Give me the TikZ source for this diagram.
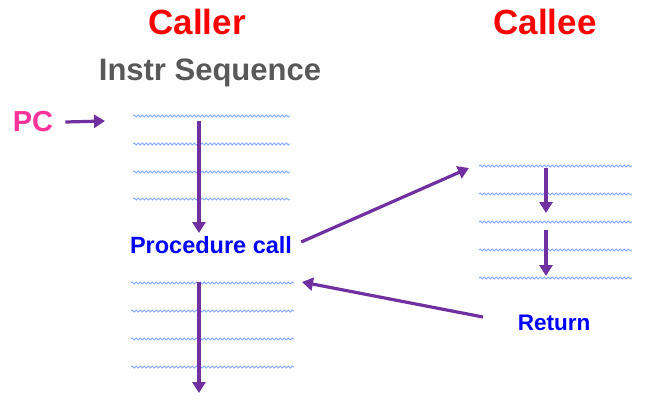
\documentclass[tikz,border=0pt]{standalone}
\usepackage{fontspec}
\setmainfont{Liberation Sans}
\usetikzlibrary{decorations.pathmorphing,arrows.meta}
\definecolor{callred}{HTML}{FF0000}
\definecolor{instrgray}{HTML}{595959}
\definecolor{pcpink}{HTML}{FF3399}
\definecolor{lblblue}{HTML}{0000FF}
\definecolor{wave}{HTML}{7FA8FF}
\definecolor{arr}{HTML}{7030A0}
\tikzset{
  title/.style={font=\fontsize{35}{40}\selectfont\bfseries, text=callred, inner sep=0pt},
  lbl/.style={font=\fontsize{23.5}{27}\selectfont\bfseries, text=lblblue, inner sep=0pt},
  wavy/.style={draw=wave, line width=0.8pt, decorate, decoration={snake, amplitude=1pt, segment length=4pt}},
  flow/.style={draw=arr, line width=3.2pt, -{Triangle[length=11pt,width=13pt]}}
}
\begin{document}
\begin{tikzpicture}[x=1pt,y=-1pt]
\useasboundingbox (0,0) rectangle (651,402);
\node[title] (caller) at (197,22) {Caller};
\node[title] (callee) at (545,22) {Callee};
\node[font=\fontsize{31}{36}\selectfont\bfseries, text=instrgray, inner sep=0pt] (instr) at (210,73) {Instr Sequence};
\node[font=\fontsize{29}{34}\selectfont\bfseries, text=pcpink, inner sep=0pt] (pc) at (33,122) {PC};
\node[lbl] (proc) at (211,245) {Procedure call};
\node[font=\fontsize{22.5}{27}\selectfont\bfseries, text=lblblue, inner sep=0pt] (ret) at (554,323) {Return};
% caller upper block
\foreach \y in {116,144,172,199} \draw[wavy] (133,\y) -- (290,\y);
% caller lower block
\foreach \y in {283,311,339,367} \draw[wavy] (131,\y) -- (294,\y);
% callee block
\foreach \y in {166,194,222,250,278} \draw[wavy] (479,\y) -- (632,\y);
% coordinates
\coordinate (pcend) at (105,121);
\coordinate (c1top) at (199,121);
\coordinate (c1bot) at (199,233);
\coordinate (c2top) at (199,282);
\coordinate (c2bot) at (199,393);
\coordinate (calleein) at (469,168);
\coordinate (retin) at (302,282);
\coordinate (e1a) at (546,168);
\coordinate (e1b) at (546,213);
\coordinate (e2a) at (546,230);
\coordinate (e2b) at (546,276);
\coordinate (retstart) at (483,317);
\draw[flow] (pc.east) ++(12,0) -- (pcend);
\draw[flow] (c1top) -- (c1bot);
\draw[flow] (c2top) -- (c2bot);
\draw[flow] (proc.east) ++(9,-3) -- (calleein);
\draw[flow] (retstart) -- (retin);
\draw[flow] (e1a) -- (e1b);
\draw[flow] (e2a) -- (e2b);
\end{tikzpicture}
\end{document}
